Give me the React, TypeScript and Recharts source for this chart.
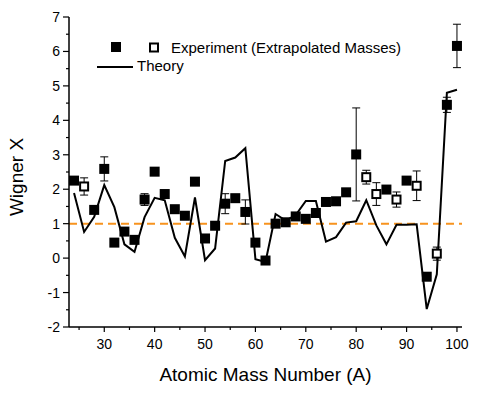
import React from 'react';
import { ComposedChart, Line, Scatter, XAxis, YAxis, ErrorBar, ReferenceLine } from 'recharts';

// measured values (filled squares)
const expA = [24, 28, 30, 32, 34, 36, 38, 40, 42, 44, 46, 48, 50, 52, 54, 56, 58, 60, 62, 64, 66, 68, 70, 72, 74, 76, 78, 80, 86, 90, 94, 98, 100];
const expX = [2.25, 1.4, 2.59, 0.45, 0.77, 0.53, 1.7, 2.51, 1.86, 1.42, 1.23, 2.22, 0.57, 0.94, 1.58, 1.74, 1.34, 0.45, -0.07, 1.0, 1.04, 1.21, 1.14, 1.31, 1.63, 1.65, 1.91, 3.01, 1.99, 2.25, -0.54, 4.45, 6.16];
const expErr = [0, 0, 0.35, 0, 0, 0, 0.17, 0, 0, 0, 0.1, 0, 0, 0, 0.29, 0, 0.35, 0, 0, 0, 0, 0, 0, 0, 0, 0, 0, 1.35, 0, 0.07, 0, 0.22, 0.63];

// extrapolated masses (open squares)
const extA = [26, 82, 84, 88, 92, 96];
const extX = [2.08, 2.35, 1.86, 1.7, 2.1, 0.13];
const extErr = [0.25, 0.2, 0.33, 0.22, 0.43, 0.19];

// theory curve
const thA = [24, 26, 28, 30, 32, 34, 36, 38, 40, 42, 44, 46, 48, 50, 52, 54, 56, 58, 60, 62, 64, 66, 68, 70, 72, 74, 76, 78, 80, 82, 84, 86, 88, 90, 92, 94, 96, 98, 100];
const thX = [1.89, 0.76, 1.2, 2.12, 1.48, 0.4, 0.18, 1.19, 1.75, 1.68, 0.59, 0.05, 1.76, -0.06, 0.28, 2.82, 2.92, 3.19, -0.03, -0.11, 1.28, 1.09, 1.25, 1.66, 1.66, 0.48, 0.61, 1.03, 1.07, 1.68, 0.95, 0.4, 0.97, 0.97, 0.98, -1.48, -0.47, 4.8, 4.89];

const xTicks = [25, 30, 35, 40, 45, 50, 55, 60, 65, 70, 75, 80, 85, 90, 95, 100];
const yTicks = [-2, -1.5, -1, -0.5, 0, 0.5, 1, 1.5, 2, 2.5, 3, 3.5, 4, 4.5, 5, 5.5, 6, 6.5, 7];

const expData = expA.map((a, i) => ({ x: a, y: expX[i], err: expErr[i] }));
const extData = extA.map((a, i) => ({ x: a, y: extX[i], err: extErr[i] }));
const thData = thA.map((a, i) => ({ x: a, y: thX[i] }));

const font = '"Liberation Sans", Arial, sans-serif';

const XTick = (props: any) => {
  const { x, y, payload } = props;
  const major = payload.value % 10 === 0;
  return (
    <g>
      <line x1={x} x2={x} y1={y} y2={y + (major ? 5 : 3)} stroke="#000" strokeWidth={1.2} />
      {major && (
        <text x={x} y={y + 22} textAnchor="middle" fontSize={14} fontFamily={font} fill="#000">
          {payload.value}
        </text>
      )}
    </g>
  );
};

const YTick = (props: any) => {
  const { x, y, payload } = props;
  const major = Number.isInteger(payload.value);
  return (
    <g>
      <line x1={x - (major ? 6 : 3)} x2={x} y1={y} y2={y} stroke="#000" strokeWidth={1.2} />
      {major && (
        <text x={x - 9} y={y + 5} textAnchor="end" fontSize={14} fontFamily={font} fill="#000">
          {payload.value}
        </text>
      )}
    </g>
  );
};

const Filled = (props: any) => <rect x={props.cx - 5} y={props.cy - 5} width={10} height={10} fill="#000" />;
const Open = (props: any) => (
  <rect x={props.cx - 4} y={props.cy - 4} width={8} height={8} fill="#fff" stroke="#000" strokeWidth={2} />
);

const App = () => (
  <div style={{ position: 'absolute', left: 0, top: 0, width: 480, height: 396, background: '#fff' }}>
    <ComposedChart width={480} height={396} margin={{ top: 17, right: 18, left: 0, bottom: 0 }}>
      <XAxis
        type="number"
        dataKey="x"
        domain={[23, 101]}
        ticks={xTicks}
        interval={0}
        tickLine={false}
        tickSize={0}
        tickMargin={0}
        tick={<XTick />}
        height={69}
        axisLine={{ stroke: '#000', strokeWidth: 1.5 }}
        label={{ value: 'Atomic Mass Number (A)', position: 'insideBottom', offset: 15, fontSize: 19, fill: '#000', fontFamily: font }}
      />
      <YAxis
        type="number"
        dataKey="y"
        domain={[-2, 7]}
        ticks={yTicks}
        interval={0}
        tickLine={false}
        tickSize={0}
        tickMargin={0}
        tick={<YTick />}
        width={69}
        axisLine={{ stroke: '#000', strokeWidth: 1.5 }}
        label={{
          content: (p: any) => {
            const vb = p.viewBox;
            const cx = vb.x + 16;
            const cy = vb.y + vb.height / 2 + 5;
            return (
              <text x={cx} y={cy} transform={`rotate(-90 ${cx} ${cy})`} textAnchor="middle" dominantBaseline="central" fontSize={19} fontFamily={font} fill="#000">
                Wigner X
              </text>
            );
          },
        }}
      />
      <ReferenceLine y={1} stroke="#f7931e" strokeWidth={2} strokeDasharray="8 5" />
      <Line data={thData} dataKey="y" type="linear" stroke="#000" strokeWidth={2} dot={false} isAnimationActive={false} />
      <Scatter data={expData} shape={<Filled />} isAnimationActive={false}>
        <ErrorBar dataKey="err" direction="y" width={4} stroke="#000" strokeWidth={1} />
      </Scatter>
      <Scatter data={extData} shape={<Open />} isAnimationActive={false}>
        <ErrorBar dataKey="err" direction="y" width={4} stroke="#000" strokeWidth={1} />
      </Scatter>
    </ComposedChart>
    <svg width={480} height={396} style={{ position: 'absolute', left: 0, top: 0, pointerEvents: 'none' }}>
      <rect x={111} y={42} width={10} height={10} fill="#000" />
      <rect x={150} y={43.5} width={8} height={8} fill="#fff" stroke="#000" strokeWidth={2} />
      <text x={171} y={53} fontSize={15} fontFamily={font} fill="#000">Experiment (Extrapolated Masses)</text>
      <line x1={97} x2={133} y1={67} y2={67} stroke="#000" strokeWidth={2} />
      <text x={137} y={71} fontSize={15} fontFamily={font} fill="#000">Theory</text>
    </svg>
  </div>
);

export default App;
